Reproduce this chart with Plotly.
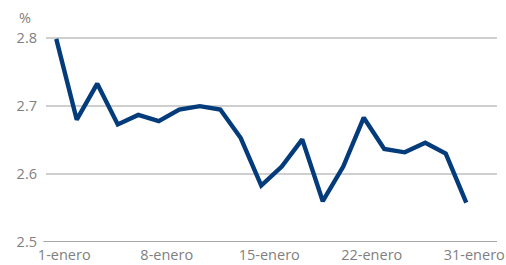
import plotly.graph_objects as go

values = [2.799, 2.680, 2.733, 2.673, 2.687, 2.678, 2.695, 2.700, 2.695, 2.653,
          2.583, 2.611, 2.651, 2.560, 2.611, 2.683, 2.637, 2.632, 2.646, 2.630, 2.558]
tick_positions = [0, 5, 10, 15, 20]
tick_labels = ["1-enero", "8-enero", "15-enero", "22-enero", "31-enero"]
y_ticks = [2.5, 2.6, 2.7, 2.8]
y_tick_labels = ["2.5", "2.6", "2.7", "2.8"]

x = list(range(len(values)))

fig = go.Figure()
fig.add_trace(go.Scatter(
    x=x, y=values, mode="lines",
    line=dict(color="#043c7b", width=4.4),
    hoverinfo="skip",
))

font = dict(family="Open Sans", size=14.5, color="#7f7f7f")

fig.update_layout(
    width=506, height=265,
    margin=dict(l=46, r=9, t=28, b=23, autoexpand=False),
    paper_bgcolor="white", plot_bgcolor="white",
    showlegend=False,
    font=font,
    xaxis=dict(
        range=[-0.5, 21.5],
        tickmode="array", tickvals=tick_positions, ticktext=tick_labels,
        showgrid=False, zeroline=False,
        showline=False, automargin=False,
        ticks="", ticklabelshift=8, ticklabelstandoff=2,
        ticklabeloverflow="allow",
        tickfont=font,
    ),
    yaxis=dict(
        range=[2.5, 2.815],
        tickmode="array", tickvals=y_ticks, ticktext=y_tick_labels,
        showgrid=True, gridcolor="#cfcfcf", gridwidth=1.5,
        zeroline=False, showline=False, automargin=False,
        ticks="", ticklabelstandoff=8,
        tickfont=font,
    ),
    annotations=[dict(
        text="%", xref="paper", yref="paper", x=-0.047, y=1.051,
        xanchor="center", yanchor="middle", showarrow=False,
        font=font,
    )],
    shapes=[dict(
        type="line", xref="paper", yref="y", x0=-0.006, x1=1.0, y0=2.5, y1=2.5,
        line=dict(color="#a6a6a6", width=2),
    )],
)

fig.write_html(
    "out.html",
    config={"displayModeBar": False},
    post_script="document.body.style.margin='0';document.body.style.overflow='hidden';",
)
